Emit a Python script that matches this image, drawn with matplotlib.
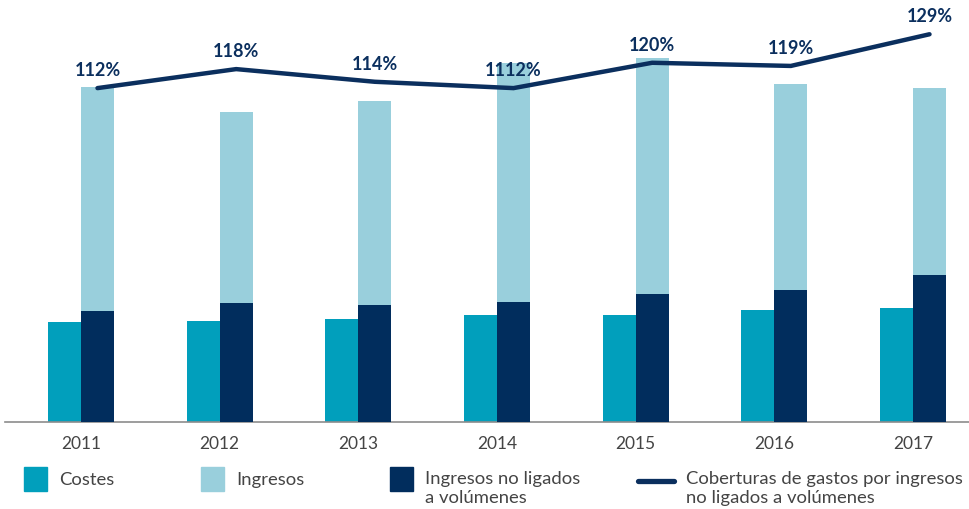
import matplotlib
matplotlib.use("Agg")
import matplotlib.pyplot as plt
from matplotlib.patches import Rectangle
from matplotlib.lines import Line2D
import numpy as np

# values (bars in arbitrary units, coverage in %)
years = ["2011", "2012", "2013", "2014", "2015", "2016", "2017"]
costes = [100, 101, 103, 107, 107, 112, 114]
ingresos = [335, 310, 321, 359, 364, 338, 334]
ingresos_no_ligados = [111, 119, 117, 120, 128, 132, 147]
cobertura = [112, 118, 114, 112, 120, 119, 129]
cobertura_labels = ["112%", "118%", "114%", "1112%", "120%", "119%", "129%"]

C_COSTES = "#019fbc"
C_INGRESOS = "#99cfdc"
C_NOLIG = "#012d5d"
C_LINE = "#0b2f5e"
C_TEXT = "#444444"

plt.rcParams['font.family'] = ['Lato', 'DejaVu Sans']

W, H = 970, 509
fig = plt.figure(figsize=(W / 100, H / 100), dpi=100)

# axes box in pixels: x 5..970, y 20..422
ax = fig.add_axes([5 / W, (H - 422) / H, 965 / W, 402 / H])
x = np.arange(len(years))
bw = 0.238

ax.bar(x - bw / 2, costes, bw, color=C_COSTES, zorder=2)
ax.bar(x + bw / 2, ingresos, bw, color=C_INGRESOS, zorder=2)
ax.bar(x + bw / 2, ingresos_no_ligados, bw, color=C_NOLIG, zorder=3)

ax.set_xlim(-0.548, 6.411)
ax.set_ylim(0, 402)
ax.set_yticks([])
ax.set_xticks(x)
ax.set_xticklabels(years, fontsize=12.5, color=C_TEXT)
ax.tick_params(axis="x", length=0, pad=10)
for s in ["top", "left", "right"]:
    ax.spines[s].set_visible(False)
ax.spines["bottom"].set_color("#8c8c8c")
ax.spines["bottom"].set_linewidth(1.2)
ax.patch.set_alpha(0)

# coverage line on its own scale
ax2 = ax.twinx()
ax2.set_ylim(6.6, 133.5)
ax2.set_yticks([])
for s in ax2.spines.values():
    s.set_visible(False)
ax2.plot(x + bw / 2, cobertura, color=C_LINE, lw=3.2,
         solid_capstyle="round", solid_joinstyle="miter", zorder=5)
for xi, v, lab in zip(x + bw / 2, cobertura, cobertura_labels):
    ax2.annotate(lab, (xi, v), xytext=(0, 12.5), textcoords="offset points",
                 ha="center", va="center", fontsize=13, fontweight="bold",
                 fontstyle="normal", color=C_LINE, zorder=6)

# legend, drawn by hand in figure pixels
def px(xp, yp):
    return xp / W, 1 - yp / H

LEG_FS = 13.3
for x0, color, label in [(24, C_COSTES, "Costes"), (201, C_INGRESOS, "Ingresos"),
                         (390, C_NOLIG, "Ingresos no ligados\na volúmenes")]:
    fig.add_artist(Rectangle(px(x0, 491), 23 / W, 24 / H, color=color,
                             transform=fig.transFigure))
    if "\n" in label:
        fig.text(*px(x0 + 35, 471), label, fontsize=LEG_FS, color=C_TEXT,
                 va="top", linespacing=1.22)
    else:
        fig.text(*px(x0 + 35, 480), label, fontsize=LEG_FS, color=C_TEXT,
                 va="center")

fig.add_artist(Line2D([638 / W, 674 / W], [1 - 481 / H, 1 - 481 / H],
                      color=C_LINE, lw=3.8, solid_capstyle="round",
                      transform=fig.transFigure))
fig.text(*px(686, 471), "Coberturas de gastos por ingresos\nno ligados a volúmenes",
         fontsize=LEG_FS, color=C_TEXT, va="top", linespacing=1.22)

fig.savefig("out.png", dpi=100)
